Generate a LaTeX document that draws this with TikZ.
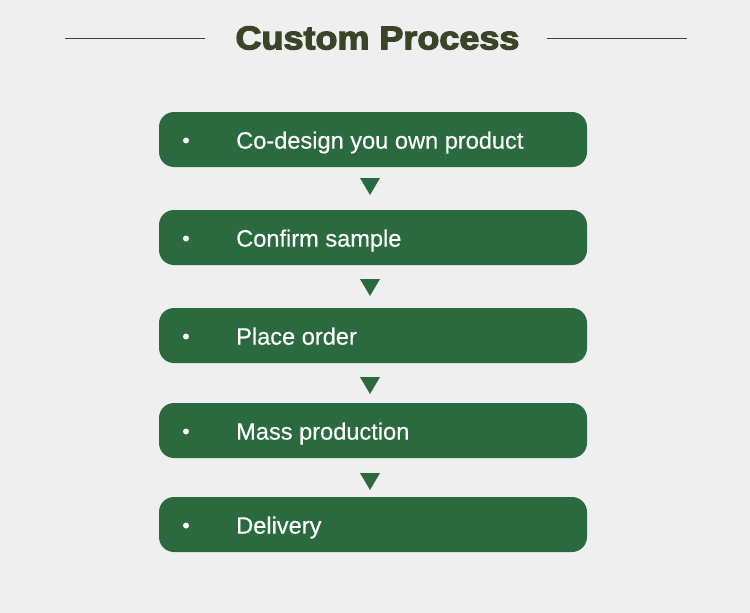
\documentclass[tikz,border=0pt]{standalone}
\usepackage{fontspec}
\setmainfont{Liberation Sans}
\newfontfamily\titlefont[FakeBold=3.5]{Liberation Sans Bold}
\newfontfamily\stepfont[FakeBold=0.4]{Liberation Sans}
\definecolor{bg}{HTML}{EFEFEF}
\definecolor{boxgreen}{HTML}{2A6A3E}
\definecolor{olive}{HTML}{3A4428}
\begin{document}
\begin{tikzpicture}[x=1pt,y=-1pt,
  stepbox/.style={fill=boxgreen, rounded corners=15pt, minimum width=428pt, minimum height=55pt, inner sep=0pt},
  steptext/.style={text=white, font=\stepfont\fontsize{23.6}{26}\selectfont, anchor=west, inner sep=0pt},
  bulletdot/.style={circle, fill=white, minimum size=6pt, inner sep=0pt},
  downtri/.style={fill=boxgreen},
  rule/.style={draw=olive, line width=0.8pt}]
\fill[bg] (0,0) rectangle (750,613);
\useasboundingbox (0,0) rectangle (750,613);
% title
\node[text=olive, font=\titlefont\fontsize{33}{36}\selectfont, inner sep=0pt, xscale=1.09] (title) at (377.5,38) {Custom Process};
\coordinate (l1) at (65,38.5);
\coordinate (l2) at (205,38.5);
\coordinate (r1) at (547,38.5);
\coordinate (r2) at (687,38.5);
\draw[rule] (l1) -- (l2);
\draw[rule] (r1) -- (r2);
% boxes
\foreach \n/\y/\t in {1/139.5/Co-design you own product, 2/237.5/Confirm sample, 3/335.5/Place order, 4/430.5/Mass production, 5/524.5/Delivery}{
  \node[stepbox] (b\n) at (373,\y) {};
  \node[bulletdot] (d\n) at (186,\y+1) {};
  \node[steptext] (t\n) at (236,\y+3) {\t\vphantom{Ag}};
}
% triangles
\foreach \n/\y in {1/178,2/279,3/377,4/473}{
  \coordinate (a\n) at (360,\y);
  \coordinate (c\n) at (380,\y);
  \coordinate (e\n) at (370,\y+17);
  \fill[downtri] (a\n) -- (c\n) -- (e\n) -- cycle;
}
\end{tikzpicture}
\end{document}
